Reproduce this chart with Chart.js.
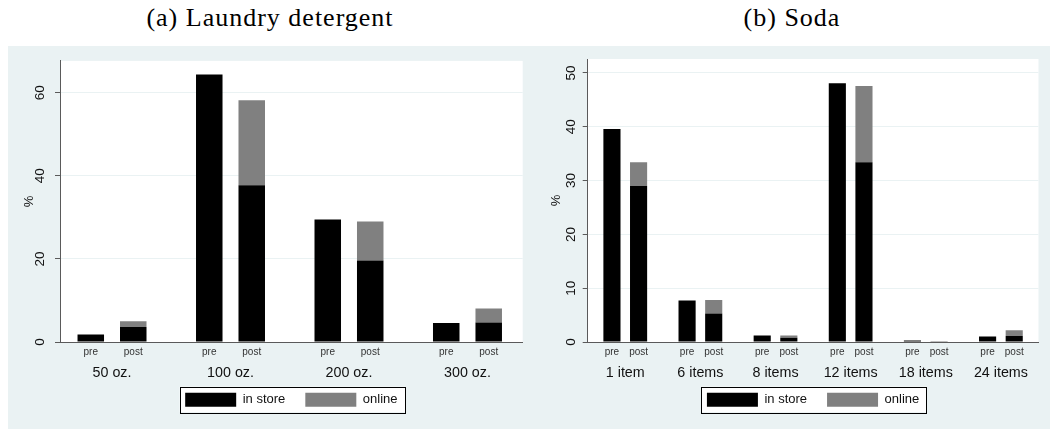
<!DOCTYPE html>
<html><head><meta charset="utf-8">
<script src="https://cdn.jsdelivr.net/npm/chart.js@4.4.1/dist/chart.umd.min.js"></script>
<style>
html,body{margin:0;padding:0;background:#fff;width:1050px;height:429px;overflow:hidden;position:relative;}
#bg{position:absolute;left:8px;top:46px;width:1042px;height:383px;background:#EAF2F3;}
.title{position:absolute;top:5px;line-height:1;font-family:'Liberation Serif',serif;font-size:26px;letter-spacing:1px;color:#000;white-space:nowrap;transform:translateX(-50%);}
#ca{position:absolute;left:8px;top:46px;}
#cb{position:absolute;left:526px;top:46px;}
</style></head>
<body>
<div id="bg"></div>
<div class="title" style="left:270px">(a) Laundry detergent</div>
<div class="title" style="left:792px">(b) Soda</div>
<canvas id="ca" width="518" height="383"></canvas>
<canvas id="cb" width="524" height="383"></canvas>
<script>
// ---- data ----
const laundryGroups = ['50 oz.', '100 oz.', '200 oz.', '300 oz.'];
const laundryPreInStore = [1.8, 64.4, 29.5, 4.6];
const laundryPostInStore = [3.6, 37.7, 19.6, 4.7];
const laundryPostOnline = [1.4, 20.5, 9.4, 3.35];
const laundryYTicks = [0, 20, 40, 60];

const sodaGroups = ['1 item', '6 items', '8 items', '12 items', '18 items', '24 items'];
const sodaPreInStore = [39.6, 7.7, 1.2, 48.1, 0.3, 1.0];
const sodaPostInStore = [29.0, 5.3, 0.8, 33.4, 0.1, 1.1];
const sodaPostOnline = [4.4, 2.5, 0.4, 14.2, 0.1, 1.1];
const sodaYTicks = [0, 10, 20, 30, 40, 50];

const periodLabels = ['pre', 'post'];
const seriesLabels = ['in store', 'online'];
const axisTitle = '%';

// ---- styling ----
Chart.defaults.font.family = '"Liberation Sans", Arial, sans-serif';
const COL_INSTORE = '#000000';
const COL_ONLINE = '#808080';
const COL_AXIS = '#5a5a5a';
const COL_GRID = '#EAF2F3';

const plotBg = {
  id: 'plotBg',
  afterLayout(chart) {
    const lg = chart.legend;
    const d = chart.options.legendShift || 0;
    if (lg) { lg.top -= d; lg.bottom -= d; }
  },
  beforeDraw(chart) {
    const {ctx, chartArea: a, legend} = chart;
    ctx.save();
    ctx.fillStyle = '#ffffff';
    ctx.fillRect(a.left, a.top, a.right - a.left, a.bottom - a.top);
    const hb = legend && legend.legendHitBoxes;
    if (hb && hb.length) {
      const l = Math.min(...hb.map(h => h.left)) - 5.5;
      const r = Math.max(...hb.map(h => h.left + h.width)) + 7.5;
      const t = hb[0].top - 6;
      const b = hb[0].top + hb[0].height + 5.5;
      ctx.fillStyle = '#ffffff';
      ctx.fillRect(l, t, r - l, b - t);
      ctx.strokeStyle = '#000000';
      ctx.lineWidth = 1;
      ctx.strokeRect(Math.round(l) + 0.5, Math.round(t) + 0.5, Math.round(r - l), Math.round(b - t));
    }
    ctx.restore();
  }
};

const periodText = {
  id: 'periodText',
  afterDraw(chart) {
    const {ctx, chartArea} = chart;
    ctx.save();
    ctx.font = '10px "Liberation Sans", Arial, sans-serif';
    ctx.fillStyle = '#333333';
    ctx.textAlign = 'center';
    ctx.textBaseline = 'middle';
    periodLabels.forEach(p => {
      const di = chart.data.datasets.findIndex(d => d.stack === p);
      chart.getDatasetMeta(di).data.forEach(el => ctx.fillText(p, el.x, chartArea.bottom + 10));
    });
    ctx.restore();
  }
};

function makeChart(id, groups, pre, post, online, yTicks, cfg) {
  const toXY = arr => arr.map((v, i) => ({x: i, y: v}));
  return new Chart(document.getElementById(id), {
    type: 'bar',
    data: {
      datasets: [
        {label: seriesLabels[0], stack: periodLabels[0], data: toXY(pre), backgroundColor: COL_INSTORE, borderWidth: 0},
        {label: seriesLabels[0], stack: periodLabels[1], data: toXY(post), backgroundColor: COL_INSTORE, borderWidth: 0},
        {label: seriesLabels[1], stack: periodLabels[1], data: toXY(online), backgroundColor: COL_ONLINE, borderWidth: 0}
      ]
    },
    options: {
      responsive: false,
      animation: false,
      legendShift: cfg.legendShift,
      categoryPercentage: cfg.cp,
      barPercentage: cfg.bp,
      layout: {padding: {top: 13, right: cfg.padRight, bottom: cfg.padBottom, left: 0}},
      scales: {
        x: {
          type: 'linear', offset: false, min: cfg.xMin, max: cfg.xMax,
          afterBuildTicks: s => { s.ticks = groups.map((_, i) => ({value: i})); },
          ticks: {callback: v => groups[v], font: {size: 14.3}, color: '#111', padding: cfg.xPad, autoSkip: false, maxRotation: 0},
          grid: {display: false, drawTicks: false, offset: false},
          border: {display: true, color: COL_AXIS, width: 1},
          afterFit: s => { s.height = cfg.xHeight; }
        },
        y: {
          stacked: true, min: 0, max: cfg.yMax,
          afterBuildTicks: s => { s.ticks = yTicks.map(v => ({value: v})); },
          ticks: {font: {size: 13.5}, color: '#111', minRotation: 90, maxRotation: 90, crossAlign: 'center', padding: cfg.yPad},
          grid: {color: COL_GRID, tickColor: COL_AXIS, tickLength: 5, lineWidth: 1},
          border: {color: COL_AXIS, width: 1},
          title: {display: true, text: axisTitle, font: {size: 13}, color: '#111', padding: {top: cfg.titlePad, bottom: 0}},
          afterFit: s => { s.width = cfg.yWidth; }
        }
      },
      plugins: {
        legend: {
          position: 'bottom', fullSize: false,
          labels: {
            boxWidth: 51, boxHeight: 14, font: {size: 13}, color: '#111', padding: 20,
            filter: (item, data) => data.datasets.findIndex(d => d.label === item.text) === item.datasetIndex
          }
        },
        tooltip: {enabled: false}
      }
    },
    plugins: [plotBg, periodText]
  });
}

makeChart('ca', laundryGroups, laundryPreInStore, laundryPostInStore, laundryPostOnline, laundryYTicks, {
  cp: 0.717, bp: 0.624, padRight: 3.3, padBottom: 1, xHeight: 42, xPad: 22, legendShift: 11.3,
  xMin: -0.439, xMax: 3.466, yMax: 67.65, yPad: 6.8, yWidth: 52, titlePad: 13.2
});
makeChart('cb', sodaGroups, sodaPreInStore, sodaPostInStore, sodaPostOnline, sodaYTicks, {
  cp: 0.709, bp: 0.643, padRight: 1, padBottom: 1, xHeight: 42, xPad: 22, legendShift: 11.3,
  xMin: -0.5, xMax: 5.5, yMax: 52.6, yPad: 3.5, yWidth: 61.7, titlePad: 22.9
});
</script>
</body></html>
